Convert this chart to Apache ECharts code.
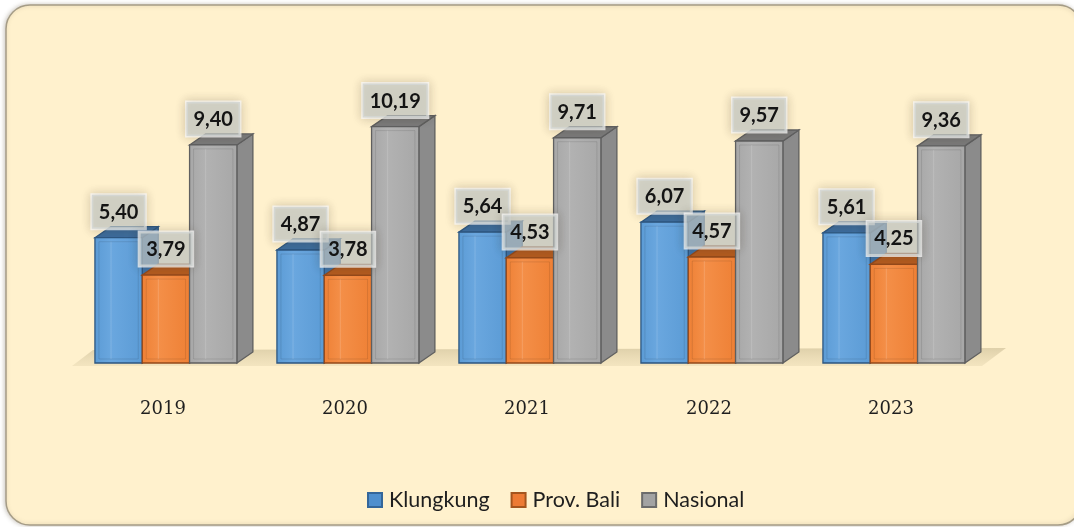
<!DOCTYPE html>
<html>
<head>
<meta charset="utf-8">
<title>Klungkung, Prov. Bali, Nasional 2019-2023</title>
<script src="https://cdn.jsdelivr.net/npm/echarts@6/dist/echarts.min.js"></script>
<style>
  html, body { margin: 0; padding: 0; background: #ffffff; }
  #chart { width: 1074px; height: 527px; }
</style>
</head>
<body>
<div id="chart"></div>
<script>
// Years on the category axis
const categories = ['2019', '2020', '2021', '2022', '2023'];
// Values per area
const klungkung = [5.40, 4.87, 5.64, 6.07, 5.61];
const provBali = [3.79, 3.78, 4.53, 4.57, 4.25];
const nasional = [9.40, 10.19, 9.71, 9.57, 9.36];
const seriesNames = ['Klungkung', 'Prov. Bali', 'Nasional'];

// Face colours for the pseudo-3D bars
const palettes = [
  { front: '#5b9bd5', light: '#6aa7df', side: '#3f72a6', top: '#3c6c9c', border: '#2d5680', icon: '#4f8fce', iconBorder: '#34669a' },
  { front: '#ee8035', light: '#f48f48', side: '#b65d1e', top: '#b35b1f', border: '#94491a', icon: '#ec7a34', iconBorder: '#a4541d' },
  { front: '#a7a7a7', light: '#b2b2b2', side: '#8b8b8b', top: '#7a7a7a', border: '#5f5f5f', icon: '#a3a3a3', iconBorder: '#6c6c6c' }
];

const fmt = v => v.toFixed(2).replace('.', ',');

const DEPTH_X = 16, DEPTH_Y = 11;

function barRenderer(k) {
  const pal = palettes[k];
  return function (params, api) {
    const idx = api.value(0);
    const val = api.value(1);
    const base = api.coord([idx, 0]);
    const topPt = api.coord([idx, val]);
    const band = api.size([1, 0])[0];
    const w = band * 0.26;
    const x0 = base[0] - band * 0.374 + k * w;
    const x1 = x0 + w;
    const yb = base[1];
    const yt = topPt[1];
    const h = yb - yt;
    const stroke = { stroke: pal.border, lineWidth: 1.3 };
    const children = [
      {
        type: 'polygon',
        shape: { points: [[x1, yt], [x1 + DEPTH_X, yt - DEPTH_Y], [x1 + DEPTH_X, yb - DEPTH_Y], [x1, yb]] },
        style: Object.assign({ fill: pal.side }, stroke)
      },
      {
        type: 'polygon',
        shape: { points: [[x0, yt], [x0 + DEPTH_X, yt - DEPTH_Y], [x1 + DEPTH_X, yt - DEPTH_Y], [x1, yt]] },
        style: Object.assign({ fill: pal.top }, stroke)
      },
      {
        type: 'rect',
        shape: { x: x0, y: yt, width: w, height: h },
        style: Object.assign({
          fill: new echarts.graphic.LinearGradient(0, 0, 1, 0, [
            { offset: 0, color: pal.front },
            { offset: 0.35, color: pal.light },
            { offset: 1, color: pal.front }
          ])
        }, stroke)
      },
      {
        type: 'rect',
        shape: { x: x0 + 4, y: yt + 4, width: w - 8, height: Math.max(h - 8, 0) },
        style: { fill: 'none', stroke: 'rgba(0,0,0,0.10)', lineWidth: 1 }
      },
      {
        type: 'line',
        shape: { x1: x0 + w * 0.34, y1: yt + 4, x2: x0 + w * 0.34, y2: yb - 4 },
        style: { stroke: 'rgba(255,255,255,0.15)', lineWidth: 1 }
      },
      {
        type: 'text',
        z2: 100,
        style: {
          text: fmt(val),
          x: x0 + w / 2,
          y: yt - 9,
          align: 'center',
          verticalAlign: 'bottom',
          font: 'bold 20px Lato, "Open Sans", sans-serif',
          fill: '#141414',
          lineHeight: 25,
          padding: [5, 7, 4, 7],
          backgroundColor: 'rgba(200,207,205,0.66)',
          borderColor: 'rgba(255,255,255,0.75)',
          borderWidth: 1.5,
          shadowBlur: 10,
          shadowColor: 'rgba(60,50,30,0.28)'
        }
      }
    ];
    return { type: 'group', children: children };
  };
}

function floorRenderer(params, api) {
  const band = api.size([1, 0])[0];
  const first = api.coord([0, 0]);
  const last = api.coord([categories.length - 1, 0]);
  const left = first[0] - band / 2;
  const right = last[0] + band / 2;
  const y = first[1];
  return {
    type: 'polygon',
    shape: { points: [[left, y + 3], [left + 21, y - 13], [right + 24, y - 15], [right, y + 3]] },
    style: {
      fill: new echarts.graphic.LinearGradient(0, 0, 0, 1, [
        { offset: 0, color: 'rgba(190,175,135,0.5)' },
        { offset: 1, color: 'rgba(215,200,160,0.3)' }
      ])
    }
  };
}

const seriesValues = [klungkung, provBali, nasional];

const series = [{
  type: 'custom',
  name: 'floor',
  z: 1,
  silent: true,
  renderItem: floorRenderer,
  data: [[0, 0]]
}];
seriesValues.forEach((vals, k) => {
  series.push({
    type: 'custom',
    name: seriesNames[k],
    z: 2,
    renderItem: barRenderer(k),
    itemStyle: { color: palettes[k].icon, borderColor: palettes[k].iconBorder, borderWidth: 1.2 },
    encode: { x: 0, y: 1 },
    data: vals.map((v, i) => [i, v])
  });
});

const chart = echarts.init(document.getElementById('chart'), null, { renderer: 'canvas' });
chart.setOption({
  animation: false,
  backgroundColor: '#ffffff',
  graphic: [{
    type: 'rect',
    z: 0,
    shape: { x: 6, y: 5, width: 1076, height: 520, r: 24 },
    style: {
      fill: '#fff1cd',
      stroke: '#a59c86',
      lineWidth: 1.5,
      shadowBlur: 4,
      shadowOffsetX: -1,
      shadowColor: 'rgba(120,110,90,0.35)'
    }
  }],
  grid: { left: 72, right: 92, top: 363 - 12 * 23.2, bottom: 527 - 363 },
  xAxis: {
    type: 'category',
    data: categories,
    axisLine: { show: false },
    axisTick: { show: false },
    splitLine: { show: false },
    axisLabel: {
      margin: 37,
      fontFamily: '"DejaVu Serif", serif',
      fontSize: 18,
      color: '#1f1f1f'
    }
  },
  yAxis: {
    type: 'value',
    min: 0,
    max: 12,
    show: false,
    splitLine: { show: false }
  },
  legend: {
    data: seriesNames,
    left: 362,
    top: 484,
    icon: 'rect',
    itemWidth: 14,
    itemHeight: 14,
    itemGap: 21,
    textStyle: {
      fontFamily: 'Lato, "Open Sans", sans-serif',
      fontSize: 21.5,
      color: '#1e1e1e',
      padding: [0, 0, 0, 2]
    }
  },
  series: series
});
</script>
</body>
</html>
